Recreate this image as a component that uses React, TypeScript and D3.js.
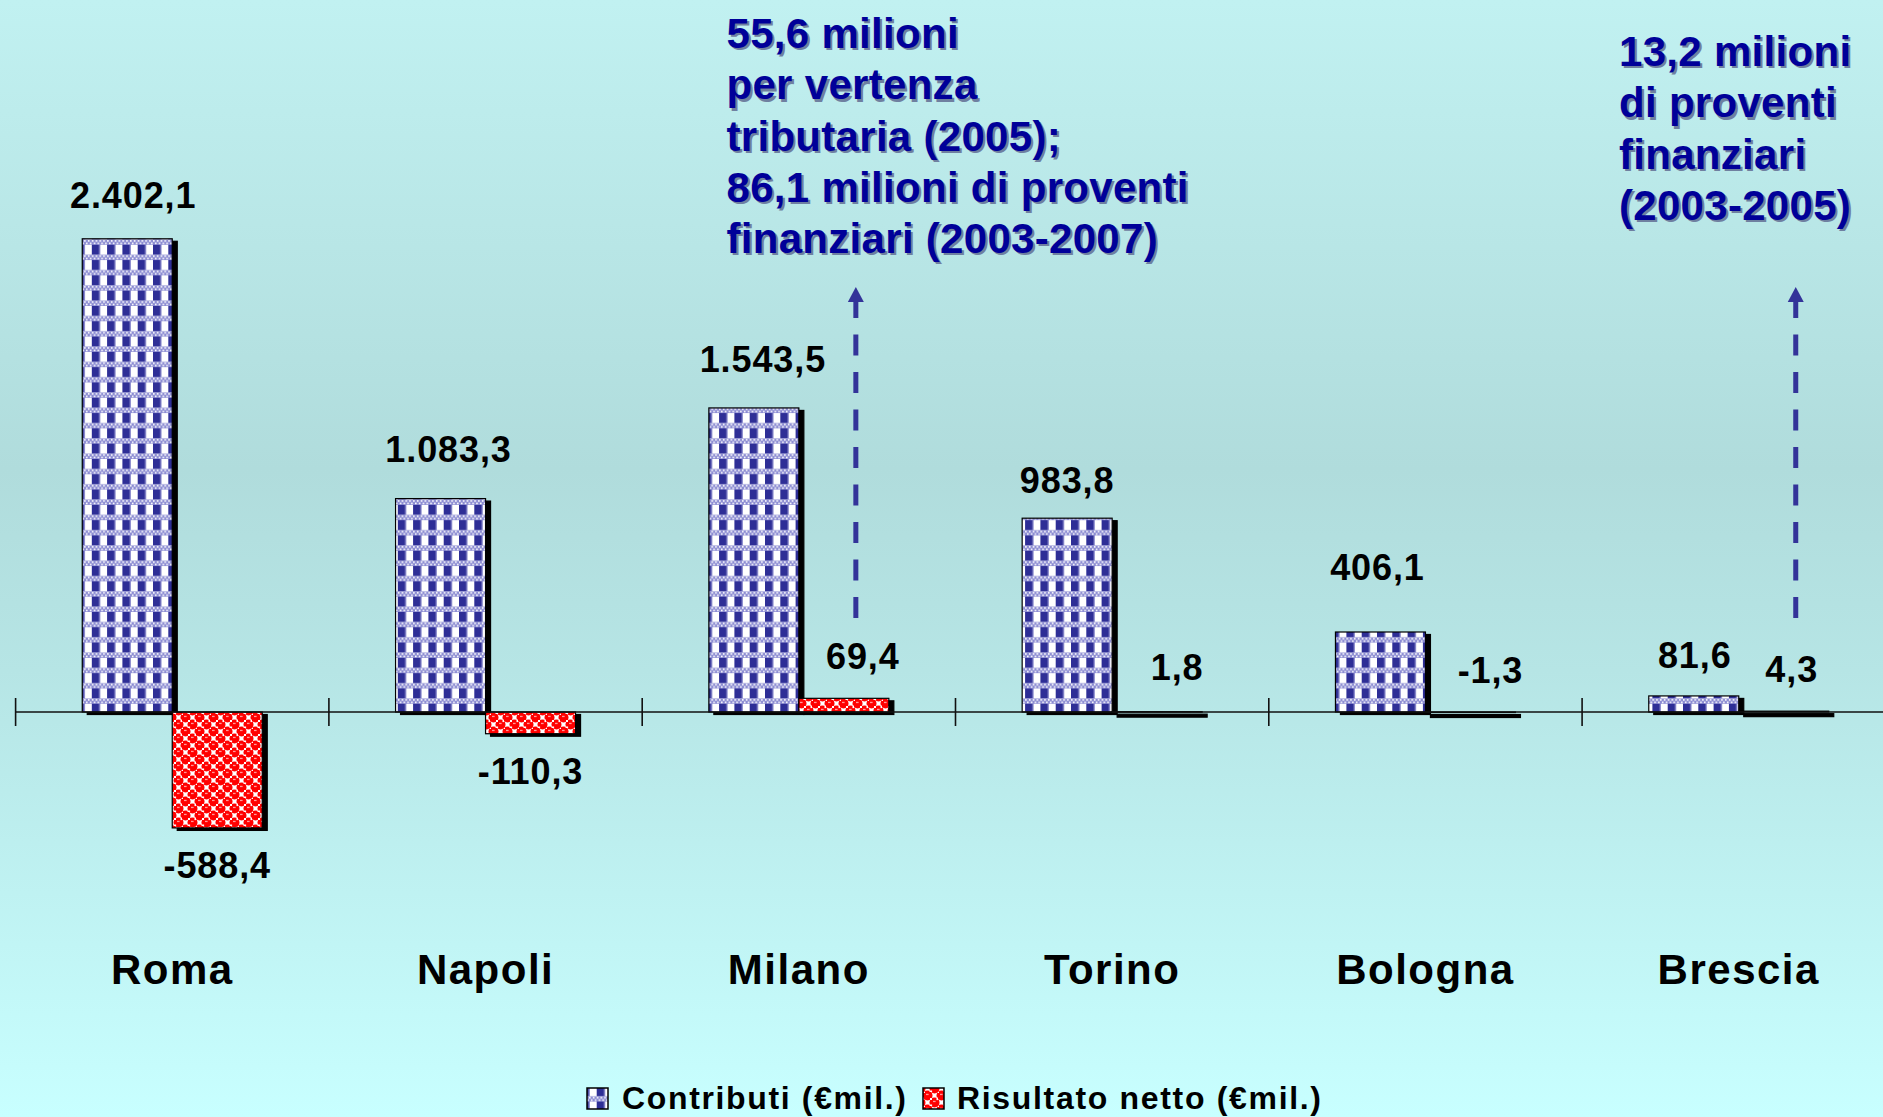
import React from "react";
import * as d3 from "d3";

const cities = ["Roma", "Napoli", "Milano", "Torino", "Bologna", "Brescia"];
const contributi = [2402.1, 1083.3, 1543.5, 983.8, 406.1, 81.6];
const risultato = [-588.4, -110.3, 69.4, 1.8, -1.3, 4.3];
const seriesNames = ["Contributi (€mil.)", "Risultato netto (€mil.)"];
const annotationCities = ["Milano", "Brescia"];
const annotationLines = [
  ["55,6 milioni", "per vertenza", "tributaria (2005);", "86,1 milioni di proventi", "finanziari (2003-2007)"],
  ["13,2 milioni", "di proventi", "finanziari", "(2003-2005)"],
];

const W = 1883;
const H = 1117;
const FONT = "'Liberation Sans', Arial, Helvetica, sans-serif";

const locale = d3.formatLocale({ decimal: ",", thousands: ".", grouping: [3], currency: ["€", ""], minus: "-" });
const fmt = locale.format(",.1f");

// label nudges (layout only), as [dx, dy] per city
const nudgeBlue = [[6, 0], [8, -6], [9, -5], [0, 6], [-3, -21], [1, 3]];
const nudgeRed = [[0, 0], [0, 0], [19, 2], [20, -1], [20, 2], [8, 2]];

export default function App() {
  const x = d3.scaleBand<string>().domain(cities).range([15.6, 15.6 + 6 * 313.3]).padding(0);
  const xs = d3.scaleBand<string>().domain(["c", "r"]).range([0, x.bandwidth()]).paddingInner(0).paddingOuter(0.7407);
  const y = d3.scaleLinear().domain([-1000, 3000]).range([909, 121]);
  const y0 = y(0);
  const bw = xs.bandwidth();

  const series = [
    { key: "c", values: contributi, fill: "url(#patBlue)", nudge: nudgeBlue },
    { key: "r", values: risultato, fill: "url(#patRed)", nudge: nudgeRed },
  ];

  const shadowDx = 5;
  const shadowDy = 2.5;

  const annoX = [726.5, 1619];
  const annoY = [48, 66];
  const lineH = 51.3;

  return (
    <svg width={W} height={H} style={{ position: "absolute", left: 0, top: 0, display: "block" }} fontFamily={FONT}>
      <defs>
        <linearGradient id="bg" x1="0" y1="0" x2="0" y2="1">
          <stop offset="0" stopColor="#c1f1f1" />
          <stop offset="0.42" stopColor="#b0dcdc" />
          <stop offset="0.6" stopColor="#b6e5e5" />
          <stop offset="1" stopColor="#c8ffff" />
        </linearGradient>
        <pattern id="patBlue" patternUnits="userSpaceOnUse" width="15.3" height="15.3" x="0" y="0">
          <rect width="15.3" height="15.3" fill="#ffffff" />
          <rect x="0" y="0" width="7.5" height="10" fill="#2e2e96" />
          <rect x="7.5" y="0" width="1" height="10" fill="#8585cc" />
          <rect x="0" y="10" width="15.3" height="5.3" fill="#8c8cd2" />
          <rect x="0" y="10.6" width="1.6" height="1.6" fill="#ffffff" />
          <rect x="3.8" y="10.6" width="1.6" height="1.6" fill="#ffffff" />
          <rect x="7.6" y="10.6" width="1.6" height="1.6" fill="#ffffff" />
          <rect x="11.4" y="10.6" width="1.6" height="1.6" fill="#ffffff" />
          <rect x="1.9" y="13" width="1.6" height="1.6" fill="#ffffff" />
          <rect x="5.7" y="13" width="1.6" height="1.6" fill="#ffffff" />
          <rect x="9.5" y="13" width="1.6" height="1.6" fill="#ffffff" />
          <rect x="13.3" y="13" width="1.6" height="1.6" fill="#ffffff" />
        </pattern>
        <pattern id="patRed" patternUnits="userSpaceOnUse" width="14" height="14" x="0" y="0">
          <rect width="14" height="14" fill="#ffffff" />
          <circle cx="3.5" cy="3.5" r="5" fill="#ff0000" />
          <circle cx="10.5" cy="10.5" r="5" fill="#ff0000" />
          <circle cx="17.5" cy="3.5" r="5" fill="#ff0000" />
          <circle cx="-3.5" cy="10.5" r="5" fill="#ff0000" />
          <circle cx="3.5" cy="17.5" r="5" fill="#ff0000" />
          <circle cx="10.5" cy="-3.5" r="5" fill="#ff0000" />
          <rect x="-1" y="-1" width="2" height="2" fill="#ffffff" />
          <rect x="6" y="6" width="2" height="2" fill="#ffffff" />
          <rect x="12.5" y="5.5" width="2.6" height="2.6" fill="#ffffff" />
          <rect x="5.5" y="12.5" width="2.6" height="2.6" fill="#ffffff" />
          <rect x="2" y="1.8" width="2.6" height="1.3" fill="#ff9a9a" />
          <rect x="9" y="8.8" width="2.6" height="1.3" fill="#ff9a9a" />
        </pattern>
      </defs>

      <rect x={0} y={0} width={W} height={H} fill="url(#bg)" />

      {/* bars */}
      {series.map((s) => (
        <g key={s.key}>
          {s.values.map((v, i) => {
            const bx = (x(cities[i]) as number) + (xs(s.key) as number);
            const top = y(Math.max(v, 0));
            const h = Math.abs(y(v) - y0);
            return (
              <rect key={"s" + i} x={bx + shadowDx} y={top + shadowDy} width={bw} height={Math.max(h, 3)} fill="#000" stroke="#000" strokeWidth={1.2} />
            );
          })}
          {s.values.map((v, i) => {
            const bx = (x(cities[i]) as number) + (xs(s.key) as number);
            const top = y(Math.max(v, 0));
            const h = Math.abs(y(v) - y0);
            return (
              <rect key={"b" + i} x={bx} y={top} width={bw} height={Math.max(h, 0.5)} fill={s.fill} stroke="#000" strokeWidth={1.2} />
            );
          })}
        </g>
      ))}

      {/* axis */}
      <line x1={x.range()[0]} x2={x.range()[1]} y1={y0} y2={y0} stroke="#111" strokeWidth={1.5} />
      {d3.range(cities.length + 1).map((i) => {
        const xx = x.range()[0] + i * x.step();
        return <line key={"t" + i} x1={xx} x2={xx} y1={y0 - 14} y2={y0 + 14} stroke="#111" strokeWidth={1.6} />;
      })}

      {/* value labels */}
      {series.map((s) =>
        s.values.map((v, i) => {
          const cx = (x(cities[i]) as number) + (xs(s.key) as number) + bw / 2 + s.nudge[i][0];
          const above = v > -50;
          const ty = (above ? y(Math.max(v, 0)) - 31 : y(v) + 50) + s.nudge[i][1];
          return (
            <text key={s.key + "l" + i} x={cx} y={ty} textAnchor="middle" fontSize={36} letterSpacing={0.9} fontWeight="bold" fill="#000">
              {fmt(v)}
            </text>
          );
        })
      )}

      {/* category labels */}
      {cities.map((c) => (
        <text key={"c" + c} x={(x(c) as number) + x.bandwidth() / 2} y={984} textAnchor="middle" fontSize={42} letterSpacing={1.5} fontWeight="bold" fill="#000">
          {c}
        </text>
      ))}

      {/* annotation arrows */}
      {annotationCities.map((c) => {
        const ax = (x(c) as number) + (xs("r") as number) + bw / 2 + 12;
        const yBottom = 618;
        const yHead = 302;
        const yTip = 287;
        return (
          <g key={"a" + c}>
            <line x1={ax} x2={ax} y1={yBottom} y2={yHead} stroke="#333399" strokeWidth={5} strokeDasharray="21 16.5" />
            <path d={`M${ax - 8},${yHead} L${ax},${yTip} L${ax + 8},${yHead} Z`} fill="#333399" />
          </g>
        );
      })}

      {/* annotation texts */}
      {annotationLines.map((lines, k) => (
        <g key={"at" + k}>
          {[{ dx: 2.2, dy: 2.2, fill: "#6f80a0" }, { dx: 0, dy: 0, fill: "#000099" }].map((st, j) => (
            <text key={j} fontSize={42} letterSpacing={0.3} fontWeight="bold" fill={st.fill}>
              {lines.map((ln, li) => (
                <tspan key={li} x={annoX[k] + st.dx} y={annoY[k] + li * lineH + st.dy}>
                  {ln}
                </tspan>
              ))}
            </text>
          ))}
        </g>
      ))}

      {/* legend */}
      <g>
        <rect x={587} y={1088} width={21} height={21} fill="url(#patBlue)" stroke="#000" strokeWidth={1.5} />
        <text x={622} y={1109} fontSize={32} fontWeight="bold" fill="#000" textLength={284} lengthAdjust="spacing">
          {seriesNames[0]}
        </text>
        <rect x={923} y={1088} width={21} height={21} fill="url(#patRed)" stroke="#000" strokeWidth={1.5} />
        <text x={957} y={1109} fontSize={32} fontWeight="bold" fill="#000" textLength={364} lengthAdjust="spacing">
          {seriesNames[1]}
        </text>
      </g>
    </svg>
  );
}
